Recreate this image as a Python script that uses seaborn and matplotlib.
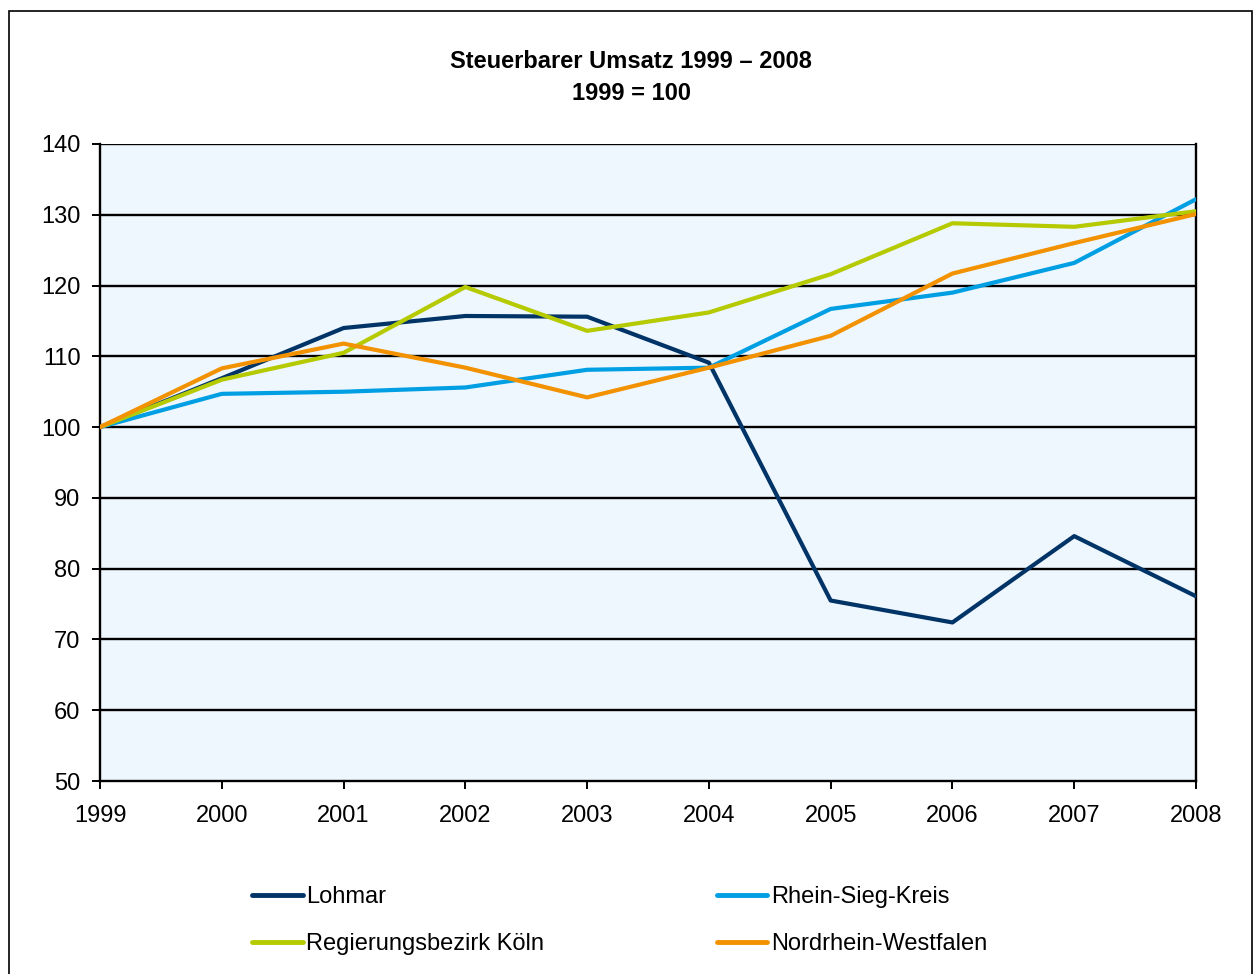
import matplotlib
matplotlib.use("Agg")
import matplotlib.pyplot as plt
import seaborn as sns
import pandas as pd
from matplotlib.patches import Rectangle
from matplotlib.lines import Line2D

years = [1999, 2000, 2001, 2002, 2003, 2004, 2005, 2006, 2007, 2008]
lohmar = [100, 106.9, 114.0, 115.7, 115.6, 109.1, 75.5, 72.4, 84.6, 76.1]
rhein_sieg = [100, 104.7, 105.0, 105.6, 108.1, 108.4, 116.7, 119.0, 123.2, 132.2]
regbez_koeln = [100, 106.7, 110.5, 119.8, 113.6, 116.2, 121.6, 128.8, 128.3, 130.5]
nrw = [100, 108.3, 111.8, 108.4, 104.2, 108.4, 112.9, 121.7, 126.0, 130.1]

series_names = ["Lohmar", "Rhein-Sieg-Kreis", "Regierungsbezirk Köln", "Nordrhein-Westfalen"]
series_values = [lohmar, rhein_sieg, regbez_koeln, nrw]
colors = ["#003366", "#009FE3", "#B5CA00", "#F39200"]
y_ticks = [50, 60, 70, 80, 90, 100, 110, 120, 130, 140]
title_lines = ["Steuerbarer Umsatz 1999 – 2008", "1999 = 100"]

rows = []
for name, vals in zip(series_names, series_values):
    for y, v in zip(years, vals):
        rows.append({"Jahr": y, "Wert": v, "Reihe": name})
df = pd.DataFrame(rows)

sns.set_style("white")
plt.rcParams["font.family"] = ["Liberation Sans", "DejaVu Sans"]
plt.rcParams["text.color"] = "black"

W, H = 1255, 974
fig = plt.figure(figsize=(W / 100, H / 100), dpi=100)
ax = fig.add_axes([100 / W, (H - 781) / H, (1196 - 100) / W, (781 - 144) / H])
ax.set_facecolor("#EEF6FE")

palette = dict(zip(series_names, colors))
sns.lineplot(data=df, x="Jahr", y="Wert", hue="Reihe", palette=palette,
             linewidth=3.0, ax=ax, legend=False, zorder=3)

ax.set_xlim(years[0], years[-1])
ax.set_ylim(50, 140)
ax.set_xticks(years)
ax.set_xticklabels([str(y) for y in years])
ax.set_yticks(y_ticks)
ax.set_xlabel("")
ax.set_ylabel("")
for t in y_ticks[1:]:
    ax.axhline(t, color="black", linewidth=1.7, zorder=1)
for side in ["left", "bottom", "right"]:
    ax.spines[side].set_visible(True)
    ax.spines[side].set_color("black")
    ax.spines[side].set_linewidth(1.7)
ax.spines["top"].set_visible(False)
ax.tick_params(axis="both", which="both", direction="out", length=6, width=1.4,
               color="black", labelsize=17, labelcolor="black")
ax.tick_params(axis="y", pad=8, left=True)
ax.tick_params(axis="x", pad=11, bottom=True)

fig.text(631 / W, 1 - 62 / H, title_lines[0], ha="center", va="center",
         fontsize=17, fontweight="bold", color="black")
fig.text(631 / W, 1 - 93 / H, title_lines[1], ha="center", va="center",
         fontsize=17, fontweight="bold", color="black")

order = [0, 2, 1, 3]
handles = [Line2D([0], [0], color=colors[i], linewidth=3.5, solid_capstyle="round") for i in order]
labels = [series_names[i] for i in order]
leg = fig.legend(handles, labels, ncol=2, loc="upper left",
                 bbox_to_anchor=(252 / W, 1 - 886 / H), frameon=False, fontsize=17,
                 handlelength=2.15, handletextpad=0.15, columnspacing=7.3,
                 labelspacing=1.05, borderpad=0, borderaxespad=0)
for t in leg.get_texts():
    t.set_color("black")

fig.patches.append(Rectangle((9 / W, -0.05), (1252 - 9) / W, 1.05 - 11 / H,
                             transform=fig.transFigure, fill=False,
                             edgecolor="black", linewidth=1.2))

fig.savefig("out.png", dpi=100)
